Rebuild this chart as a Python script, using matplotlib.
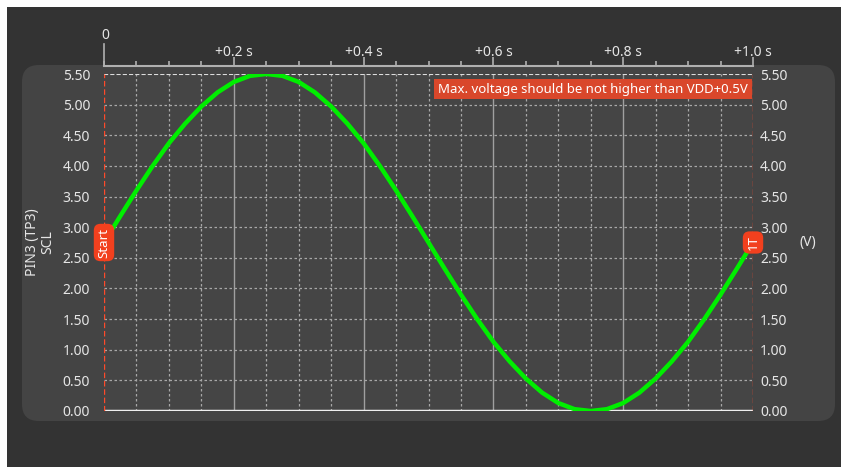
import matplotlib.pyplot as plt
from matplotlib.patches import FancyBboxPatch, Rectangle

# signal samples (time in s, voltage in V)
t_vals = [0.0, 0.025, 0.05, 0.075, 0.1, 0.125, 0.15, 0.175, 0.2, 0.225,
          0.25, 0.275, 0.3, 0.325, 0.35, 0.375, 0.4, 0.425, 0.45, 0.475,
          0.5, 0.525, 0.55, 0.575, 0.6, 0.625, 0.65, 0.675, 0.7, 0.725,
          0.75, 0.775, 0.8, 0.825, 0.85, 0.875, 0.9, 0.925, 0.95, 0.975, 1.0]
v_vals = [2.75, 3.18, 3.60, 4.00, 4.37, 4.69, 4.97, 5.20, 5.37, 5.47,
          5.50, 5.47, 5.37, 5.20, 4.97, 4.69, 4.37, 4.00, 3.60, 3.18,
          2.75, 2.32, 1.90, 1.50, 1.13, 0.81, 0.53, 0.30, 0.13, 0.03,
          0.00, 0.03, 0.13, 0.30, 0.53, 0.81, 1.13, 1.50, 1.90, 2.32, 2.75]

y_ticks = [0.0, 0.5, 1.0, 1.5, 2.0, 2.5, 3.0, 3.5, 4.0, 4.5, 5.0, 5.5]
time_major = [0.2, 0.4, 0.6, 0.8, 1.0]
time_labels = ["+0.2 s", "+0.4 s", "+0.6 s", "+0.8 s", "+1.0 s"]
time_minor = [i * 0.05 for i in range(21)]
markers = [(0.0, "Start"), (1.0, "1T")]
note = "Max. voltage should be not higher than VDD+0.5V"
y_label = "PIN3 (TP3)\nSCL"

plt.rcParams['font.family'] = ['Noto Sans', 'DejaVu Sans']

W, H = 841, 467
fig = plt.figure(figsize=(W / 100, H / 100), dpi=100, facecolor='white')

def fx(px):
    return px / W

def fy(py):
    return 1 - py / H

# dark window background and rounded panel
fig.patches.append(Rectangle((fx(7), 0), 1 - fx(7), fy(7), transform=fig.transFigure,
                             facecolor='#333333', edgecolor='none', zorder=-10))
fig.patches.append(FancyBboxPatch((fx(22), fy(421)), fx(835) - fx(22), fy(65) - fy(421),
                                  boxstyle="round,pad=0,rounding_size=0.02",
                                  transform=fig.transFigure, facecolor='#444444',
                                  edgecolor='none', zorder=-9, mutation_aspect=W / H))

text_col = '#e6e6e6'
x0, x1, ytop, ybot = 104, 753, 74, 411
ax = fig.add_axes([fx(x0), fy(ybot), fx(x1) - fx(x0), fy(ytop) - fy(ybot)])
ax.set_facecolor('#454545')
ax.set_xlim(0, 1)
ax.set_ylim(0, 5.5)
for s in ax.spines.values():
    s.set_visible(False)

# grid
for t in time_minor:
    if any(abs(t - m) < 1e-9 for m in time_major) or t == 0.0:
        continue
    ax.axvline(t, color='#a8a8a8', lw=0.9, ls=(0, (2, 2)), zorder=1)
for t in time_major[:-1]:
    ax.axvline(t, color='#a0a0a0', lw=1.0, zorder=1)
for v in y_ticks[1:-1]:
    ax.axhline(v, color='#a8a8a8', lw=0.9, ls=(0, (2, 2)), zorder=1)
ax.axhline(5.5, color='#dddddd', lw=1.5, ls=(0, (2, 1)), zorder=1)
ax.axhline(0.0, color='#eeeeee', lw=2.5, zorder=2)

# marker lines
for t, lab in markers:
    ax.axvline(t, color='#ff4a2a', lw=1.0, ls=(0, (4, 2)), zorder=3)

ax.plot(t_vals, v_vals, color='#00ee00', lw=3.2, zorder=4, solid_capstyle='round')

for t, lab in markers:
    ax.text(t, 2.75, lab, rotation=90, ha='center', va='center', color='white',
            fontsize=9.5, zorder=6,
            bbox=dict(boxstyle='round,pad=0.28,rounding_size=0.5', fc='#f2401e', ec='none'))

ax.text(0.992, 5.255, note, ha='right', va='center', color='white', fontsize=9.5, zorder=6,
        bbox=dict(boxstyle='square,pad=0.3', fc='#d9472b', ec='none'))

# y tick labels on both sides
ax.set_yticks(y_ticks)
ax.set_yticklabels([f"{v:.2f}" for v in y_ticks])
ax.tick_params(axis='y', length=0, pad=10, labelsize=10, labelcolor=text_col)
ax.set_xticks([])

axr = ax.twinx()
axr.set_ylim(0, 5.5)
for s in axr.spines.values():
    s.set_visible(False)
axr.set_yticks(y_ticks)
axr.set_yticklabels([f"{v:.2f}" for v in y_ticks])
axr.tick_params(axis='y', length=0, pad=5, labelsize=10, labelcolor=text_col)

ax.text(-0.098, 0.5, y_label, transform=ax.transAxes, rotation=90, ha='center',
        va='center', color=text_col, fontsize=10, linespacing=1.0)
ax.text(1.085, 0.5, "(V)", transform=ax.transAxes, ha='center', va='center',
        color=text_col, fontsize=10)

# time axis above the plot
axt = fig.add_axes([fx(x0), fy(70), fx(x1) - fx(x0), fy(66) - fy(70)])
axt.set_xlim(0, 1)
axt.set_ylim(0, 1)
axt.patch.set_visible(False)
for k, s in axt.spines.items():
    s.set_visible(k == 'top')
axt.spines['top'].set_color('#b0b0b0')
axt.spines['top'].set_linewidth(1.5)
axt.set_yticks([])
axt.xaxis.tick_top()
axt.set_xticks(time_major)
axt.set_xticklabels([])
axt.set_xticks(time_minor, minor=True)
axt.tick_params(axis='x', which='major', direction='out', length=6.5, width=1.2,
                color='#b0b0b0')
axt.tick_params(axis='x', which='minor', direction='out', length=3.5, width=1.2,
                color='#b0b0b0')
for t, lab in zip(time_major, time_labels):
    axt.annotate(lab, (t, 1), xycoords=axt.get_xaxis_transform(), xytext=(0, 10),
                 textcoords='offset pixels', ha='center', va='baseline',
                 color=text_col, fontsize=10)
axt.plot([0, 0], [1, 6.5], color='#b0b0b0', lw=1.2, clip_on=False)
axt.text(0.002, 6.8, "0", ha='center', va='bottom', color=text_col, fontsize=10)

fig.savefig("out.png", dpi=100, facecolor=fig.get_facecolor())
